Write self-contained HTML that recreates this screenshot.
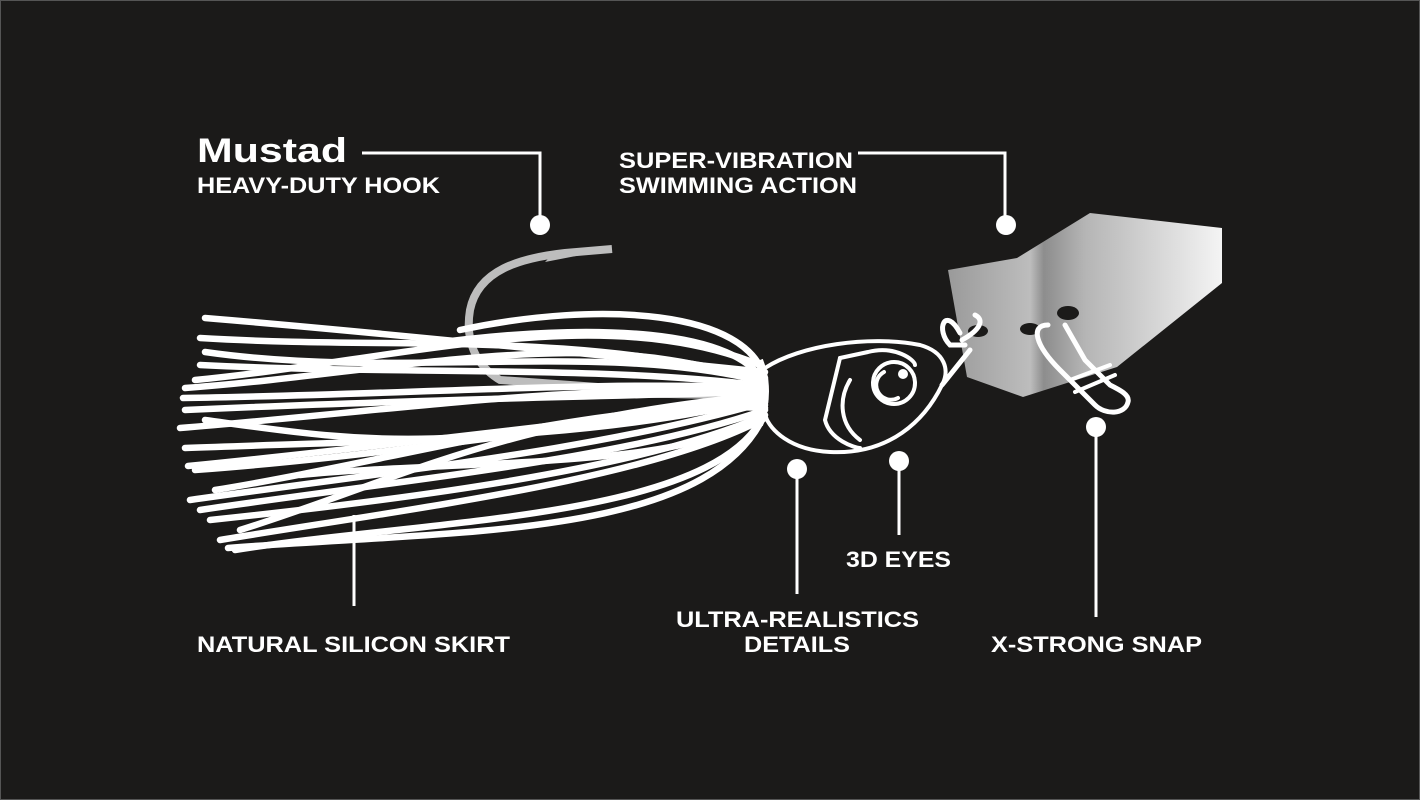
<!DOCTYPE html>
<html><head><meta charset="utf-8"><style>
html,body{margin:0;padding:0;background:#1b1a19;}
svg{display:block}
text{font-family:"Liberation Sans",Arial,sans-serif;font-weight:bold;fill:#fff}
</style></head><body>
<svg width="1420" height="800" viewBox="0 0 1420 800" xmlns="http://www.w3.org/2000/svg">
<defs>
<linearGradient id="bl" x1="0" y1="0" x2="1" y2="0">
<stop offset="0" stop-color="#9a9a9a"/><stop offset="0.3" stop-color="#bdbdbd"/><stop offset="0.35" stop-color="#8d8d8d"/><stop offset="0.5" stop-color="#b5b5b5"/><stop offset="1" stop-color="#f4f4f4"/>
</linearGradient>
</defs>
<rect x="0" y="0" width="1420" height="800" fill="#1b1a19"/>
<rect x="0.5" y="0.5" width="1419" height="799" fill="none" stroke="#555" stroke-width="1"/>

<g stroke="#fff" stroke-width="3" fill="none">
<polyline points="362,153 540,153 540,225"/>
<polyline points="858,153 1005,153 1005,225"/>
<line x1="899" y1="461" x2="899" y2="535"/>
<line x1="797" y1="469" x2="797" y2="594"/>
<line x1="1096" y1="427" x2="1096" y2="617"/>
<line x1="354" y1="515" x2="354" y2="606"/>
</g>
<g fill="#fff">
<circle cx="540" cy="225" r="10"/>
<circle cx="1006" cy="225" r="10"/>
<circle cx="899" cy="461" r="10"/>
<circle cx="797" cy="469" r="10"/>
<circle cx="1096" cy="427" r="10"/>
</g>

<path d="M612,249 L565,253 C520,258 478,270 470,310 C465,340 475,365 500,380 L640,390" fill="none" stroke="#bdbdbd" stroke-width="8"/>
<path d="M612,249 L545,262 L555,252 Z" fill="#bdbdbd"/>
<path d="M620,386 L760,392 L760,400 L625,397 Z" fill="#bdbdbd"/>

<polygon points="948,270 1017,258 1090,213 1222,228 1222,283 1117,367 1023,397 967,377" fill="url(#bl)"/>
<ellipse cx="978" cy="331" rx="10" ry="6" fill="#1b1a19"/>
<ellipse cx="1030" cy="329" rx="10" ry="6" fill="#1b1a19"/>
<ellipse cx="1068" cy="313" rx="11" ry="7" fill="#1b1a19"/>

<g fill="none" stroke="#fff" stroke-width="6.5" stroke-linecap="round">
<path d="M205,318 C350,330 550,350 765,372"/>
<path d="M200,338 C400,350 550,330 765,378"/>
<path d="M205,352 C400,380 600,340 765,382"/>
<path d="M195,380 C400,360 600,300 760,365"/>
<path d="M185,388 C400,372 600,320 765,385"/>
<path d="M183,398 C400,395 600,380 765,388"/>
<path d="M185,410 C400,400 650,395 765,392"/>
<path d="M180,428 C400,410 600,380 765,395"/>
<path d="M205,420 C350,440 450,460 765,390"/>
<path d="M185,448 C400,440 600,440 765,398"/>
<path d="M188,466 C350,450 600,420 765,400"/>
<path d="M195,470 C400,455 600,420 765,405"/>
<path d="M215,490 C400,460 600,400 765,408"/>
<path d="M200,510 C400,480 620,460 765,410"/>
<path d="M210,520 C400,500 640,470 765,415"/>
<path d="M220,540 C400,510 650,480 765,418"/>
<path d="M228,548 C450,530 700,540 762,420"/>
<path d="M235,550 C420,520 700,520 760,422"/>
<path d="M240,530 C400,480 500,420 765,395"/>
<path d="M460,330 C600,300 750,310 765,380"/>
<path d="M420,345 C600,320 740,330 765,385"/>
<path d="M300,475 C450,460 700,470 762,412"/>
<path d="M190,500 C400,470 600,450 765,402"/>
<path d="M200,365 C400,375 600,365 765,386"/>
</g>
<path d="M760,360 Q772,390 760,425" stroke="#fff" stroke-width="6" fill="none"/>

<g fill="none" stroke="#fff" stroke-width="4" stroke-linecap="round">
<path d="M765,368 C800,345 870,335 920,345 C945,352 950,370 942,385 C925,420 890,455 830,452 C790,450 770,430 765,415"/>
<path d="M840,358 L868,352 C895,345 915,360 915,365"/>
<path d="M840,358 L825,420 C830,440 855,448 860,448"/>
<path d="M850,380 C838,400 840,425 860,440"/>
<circle cx="894" cy="383" r="21"/>
<path d="M884,372 A14,14 0 0,0 898,398"/>
<path d="M942,385 L970,350" stroke-width="5"/>
<path d="M960,333 C945,305 935,330 950,345 L965,345" stroke-width="5"/>
<path d="M962,340 C980,330 985,320 975,315" stroke-width="5"/>
<path d="M1048,325 C1030,325 1035,345 1060,370 L1085,395 L1095,405 C1105,415 1125,415 1128,402 C1130,395 1120,390 1110,385 L1085,360 L1065,325" stroke-width="5"/>
<path d="M1070,380 L1110,365 M1075,392 L1115,375" stroke-width="4"/>
</g>
<circle cx="903" cy="374" r="5" fill="#fff"/>

<text x="197" y="162" font-size="34" textLength="150" lengthAdjust="spacingAndGlyphs">Mustad</text>
<text x="197" y="193" font-size="22" textLength="243" lengthAdjust="spacingAndGlyphs">HEAVY-DUTY HOOK</text>
<text x="619" y="168" font-size="22" textLength="234" lengthAdjust="spacingAndGlyphs">SUPER-VIBRATION</text>
<text x="619" y="193" font-size="22" textLength="238" lengthAdjust="spacingAndGlyphs">SWIMMING ACTION</text>
<text x="846" y="567" font-size="22" textLength="105" lengthAdjust="spacingAndGlyphs">3D EYES</text>
<text x="676" y="627" font-size="22" textLength="243" lengthAdjust="spacingAndGlyphs">ULTRA-REALISTICS</text>
<text x="744" y="652" font-size="22" textLength="106" lengthAdjust="spacingAndGlyphs">DETAILS</text>
<text x="197" y="652" font-size="22" textLength="313" lengthAdjust="spacingAndGlyphs">NATURAL SILICON SKIRT</text>
<text x="991" y="652" font-size="22" textLength="211" lengthAdjust="spacingAndGlyphs">X-STRONG SNAP</text>
</svg>
</body></html>
